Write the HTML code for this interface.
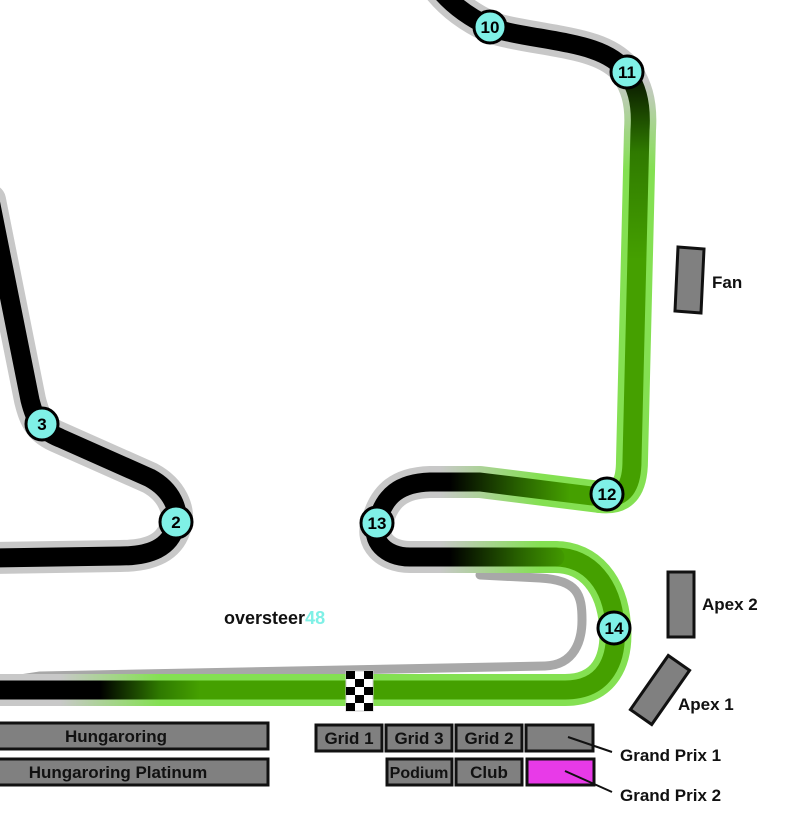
<!DOCTYPE html>
<html><head><meta charset="utf-8"><style>
html,body{margin:0;padding:0;background:#fff}
svg{display:block}
text{font-family:"Liberation Sans",sans-serif;font-weight:bold}
</style></head><body>
<svg width="803" height="815" viewBox="0 0 803 815" xmlns="http://www.w3.org/2000/svg">
<defs>
<linearGradient id="bo" gradientUnits="userSpaceOnUse" x1="60" y1="0" x2="160" y2="0"><stop offset="0" stop-color="#c8c8c8"/><stop offset="1" stop-color="#84e052"/></linearGradient>
<linearGradient id="bi" gradientUnits="userSpaceOnUse" x1="100" y1="0" x2="200" y2="0"><stop offset="0" stop-color="#000"/><stop offset="0.6" stop-color="#2f7a00"/><stop offset="1" stop-color="#45a000"/></linearGradient>
<linearGradient id="so" gradientUnits="userSpaceOnUse" x1="440" y1="0" x2="540" y2="0"><stop offset="0" stop-color="#c8c8c8"/><stop offset="1" stop-color="#84e052"/></linearGradient>
<linearGradient id="si" gradientUnits="userSpaceOnUse" x1="450" y1="0" x2="570" y2="0"><stop offset="0" stop-color="#000"/><stop offset="0.6" stop-color="#2a6600"/><stop offset="1" stop-color="#45a000"/></linearGradient>
<linearGradient id="vo" gradientUnits="userSpaceOnUse" x1="0" y1="80" x2="0" y2="170"><stop offset="0" stop-color="#c8c8c8"/><stop offset="1" stop-color="#84e052"/></linearGradient>
<linearGradient id="vi" gradientUnits="userSpaceOnUse" x1="0" y1="80" x2="0" y2="260"><stop offset="0" stop-color="#0a1a00"/><stop offset="0.4" stop-color="#2f7a00"/><stop offset="1" stop-color="#45a000"/></linearGradient>
</defs>
<g fill="none" stroke-linecap="round" stroke-linejoin="round">
<path d="M-10,200 L30,400 C35,420 40,430 60,438 L150,478 C172,490 180,510 176,525 C170,548 150,556 120,556 L-10,558" stroke="#c8c8c8" stroke-width="32"/>
<path d="M-10,200 L30,400 C35,420 40,430 60,438 L150,478 C172,490 180,510 176,525 C170,548 150,556 120,556 L-10,558" stroke="#000" stroke-width="19"/>
<path d="M0,682 L40,676 L545,666 C575,665 582,640 582,620 C582,595 578,580 540,578 L480,575" stroke="#a8a8a8" stroke-width="9"/>
<path d="M-10,690 L400,690" stroke="url(#bo)" stroke-width="32"/>
<path d="M400,690 L565,690 C605,690 618,660 615,625 C612,585 590,557 555,557" stroke="#84e052" stroke-width="32"/>
<path d="M600,497 C625,500 632,485 632,460 L640,130 C642,100 635,85 627,72" stroke="url(#vo)" stroke-width="32"/>
<path d="M555,557 L410,557 C385,557 370,540 377,523 C384,495 400,483 430,482 L480,482 L600,497" stroke="url(#so)" stroke-width="32"/>
<path d="M627,72 C610,50 580,45 540,38 C510,33 497,30 490,27 C475,20 455,8 440,-10" stroke="#c8c8c8" stroke-width="32"/>
<path d="M-10,690 L400,690" stroke="url(#bi)" stroke-width="19"/>
<path d="M400,690 L565,690 C605,690 618,660 615,625 C612,585 590,557 555,557" stroke="#45a000" stroke-width="19"/>
<path d="M600,497 C625,500 632,485 632,460 L640,130 C642,100 635,85 627,72" stroke="url(#vi)" stroke-width="19"/>
<path d="M555,557 L410,557 C385,557 370,540 377,523 C384,495 400,483 430,482 L480,482 L600,497" stroke="url(#si)" stroke-width="19"/>
<path d="M627,72 C610,50 580,45 540,38 C510,33 497,30 490,27 C475,20 455,8 440,-10" stroke="#000" stroke-width="19"/>
</g>
<g>
<rect x="346" y="671" width="27" height="40" fill="#fff" stroke="#ccc" stroke-width="1"/>
<g fill="#000">
<rect x="346" y="671" width="9" height="8"/><rect x="364" y="671" width="9" height="8"/>
<rect x="355" y="679" width="9" height="8"/>
<rect x="346" y="687" width="9" height="8"/><rect x="364" y="687" width="9" height="8"/>
<rect x="355" y="695" width="9" height="8"/>
<rect x="346" y="703" width="9" height="8"/><rect x="364" y="703" width="9" height="8"/>
</g>
</g>
<g stroke="#000" stroke-width="3" fill="#7ff0e6">
<circle cx="490" cy="27" r="16"/><circle cx="627" cy="72" r="16"/>
<circle cx="42" cy="424" r="16"/><circle cx="176" cy="522" r="16"/>
<circle cx="607" cy="494" r="16"/><circle cx="377" cy="523" r="16"/>
<circle cx="614" cy="628" r="16"/>
</g>
<g font-size="17" text-anchor="middle" fill="#000">
<text x="490" y="33">10</text><text x="627" y="78">11</text>
<text x="42" y="430">3</text><text x="176" y="528">2</text>
<text x="607" y="500">12</text><text x="377" y="529">13</text>
<text x="614" y="634">14</text>
</g>
<text x="224" y="624" font-size="18" fill="#111">oversteer<tspan fill="#7ff0e6">48</tspan></text>
<g fill="#808080" stroke="#111" stroke-width="3">
<polygon points="678,247 704,249 701,313 675,311"/>
<rect x="668" y="572" width="26" height="65"/>
<rect x="647" y="657" width="26" height="66" transform="rotate(35 660 690)"/>
<rect x="-5" y="723" width="273" height="26"/>
<rect x="-5" y="759" width="273" height="26"/>
<rect x="316" y="725" width="66" height="26"/>
<rect x="386" y="725" width="66" height="26"/>
<rect x="456" y="725" width="66" height="26"/>
<rect x="526" y="725" width="67" height="26"/>
<rect x="387" y="759" width="65" height="26"/>
<rect x="456" y="759" width="66" height="26"/>
<rect x="527" y="759" width="67" height="26" fill="#e83ae8"/>
</g>
<g stroke="#111" stroke-width="2">
<line x1="568" y1="737" x2="612" y2="752"/>
<line x1="565" y1="771" x2="612" y2="792"/>
</g>
<g font-size="17" fill="#111">
<text x="712" y="288">Fan</text>
<text x="702" y="610">Apex 2</text>
<text x="678" y="710">Apex 1</text>
<text x="620" y="761">Grand Prix 1</text>
<text x="620" y="801">Grand Prix 2</text>
</g>
<g font-size="17" fill="#111" text-anchor="middle">
<text x="116" y="742">Hungaroring</text>
<text x="118" y="778">Hungaroring Platinum</text>
<text x="349" y="744">Grid 1</text>
<text x="419" y="744">Grid 3</text>
<text x="489" y="744">Grid 2</text>
<text x="419" y="778" font-size="16">Podium</text>
<text x="489" y="778">Club</text>
</g>
</svg>
</body></html>
